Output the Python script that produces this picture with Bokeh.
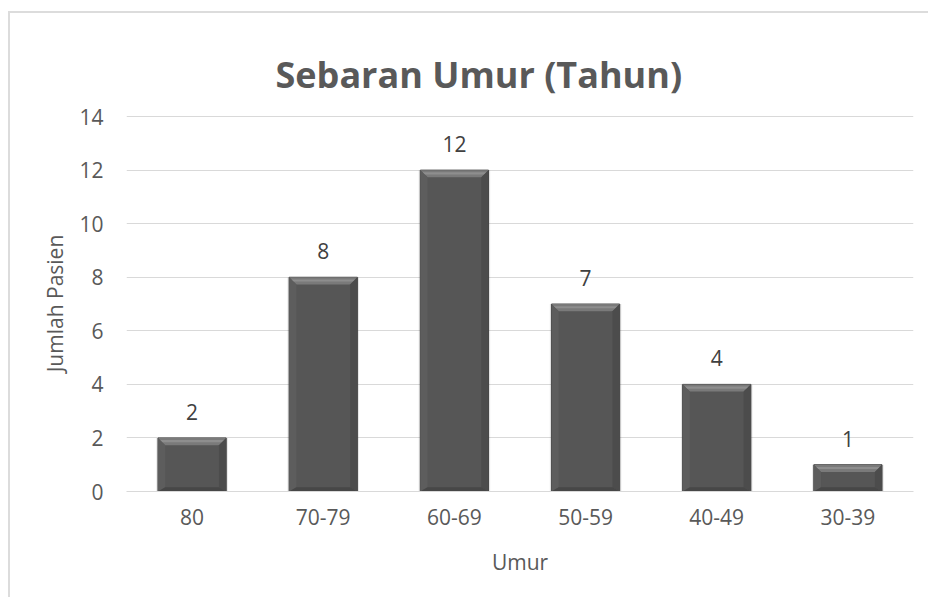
from bokeh.plotting import figure
from bokeh.models import ColumnDataSource, FixedTicker, LabelSet, Range1d
from bokeh.core.properties import value
from bokeh.embed import file_html
from bokeh.resources import INLINE

categories = ["80", "70-79", "60-69", "50-59", "40-49", "30-39"]
counts = [2, 8, 12, 7, 4, 1]
y_ticks = [0, 2, 4, 6, 8, 10, 12, 14]

FONT = "Open Sans"
GREY = "#595959"

bar_w = 0.52
bev = 0.27   # bevel depth (y units)
bevx = 0.055  # bevel depth (category units)

src = ColumnDataSource(dict(cat=categories, n=counts, lab=[str(c) for c in counts]))

p = figure(x_range=categories, y_range=Range1d(0, 14.04), width=920, height=586,
           output_backend="svg", toolbar_location=None,
           title="Sebaran Umur (Tahun)")
p.styles = {"margin-left": "8px", "margin-top": "11px",
            "border-left": "2px solid #dcdcdc", "border-top": "2px solid #dcdcdc"}
p.min_border_left = 116
p.min_border_right = 17
p.min_border_top = 102
p.min_border_bottom = 108

p.title.align = "left"
p.title.offset = 149
p.title.text_font = FONT
p.title.text_font_size = "36px"
p.title.text_font_style = "bold"
p.title.text_color = GREY
p.title.standoff = 33

p.outline_line_color = None
p.border_fill_color = "white"

# soft shadow
p.vbar(x="cat", top="n", width=bar_w + 0.025, source=src, fill_color="#000000",
       fill_alpha=0.10, line_color=None)
# main bar body
p.vbar(x="cat", top="n", width=bar_w, source=src, fill_color="#565656",
       line_color="#444444", line_width=1)

# bevel facets derived from the data
xs_top, ys_top, xs_hi, ys_hi, xs_l, ys_l, xs_r, ys_r, xs_b, ys_b = ([] for _ in range(10))
for i, n in enumerate(counts):
    cx = i + 0.5
    x0, x1 = cx - bar_w / 2, cx + bar_w / 2
    d = min(bev, n * 0.3)
    xs_top.append([x0, x1, x1 - bevx, x0 + bevx]); ys_top.append([n, n, n - d, n - d])
    xs_hi.append([x0 + bevx * 0.3, x1 - bevx * 0.3, x1 - bevx * 0.6, x0 + bevx * 0.6])
    ys_hi.append([n - d * 0.3, n - d * 0.3, n - d * 0.6, n - d * 0.6])
    xs_l.append([x0, x0 + bevx, x0 + bevx, x0]); ys_l.append([n, n - d, d * 0.6, 0])
    xs_r.append([x1, x1 - bevx, x1 - bevx, x1]); ys_r.append([n, n - d, d * 0.6, 0])
    xs_b.append([x0, x0 + bevx, x1 - bevx, x1]); ys_b.append([0, d * 0.6, d * 0.6, 0])

p.patches(xs_top, ys_top, fill_color="#7a7a7a", line_color=None)
p.patches(xs_hi, ys_hi, fill_color="#8e8e8e", line_color=None)
p.patches(xs_l, ys_l, fill_color="#5d5d5d", line_color=None)
p.patches(xs_r, ys_r, fill_color="#4c4c4c", line_color=None)
p.patches(xs_b, ys_b, fill_color="#474747", line_color=None)

labels = LabelSet(x="cat", y="n", text="lab", source=src, text_align="center",
                  text_baseline="alphabetic", y_offset=18,
                  text_font=value(FONT), text_font_size="21px",
                  text_color="#404040")
p.add_layout(labels)

p.yaxis.ticker = FixedTicker(ticks=y_ticks)
p.ygrid.grid_line_color = "#d9d9d9"
p.xgrid.grid_line_color = None

for ax in (p.xaxis, p.yaxis):
    ax.axis_line_color = None
    ax.major_tick_line_color = None
    ax.minor_tick_line_color = None
    ax.major_tick_out = 0
    ax.major_tick_in = 0
    ax.minor_tick_out = 0
    ax.minor_tick_in = 0
    ax.major_label_text_font = FONT
    ax.major_label_text_font_size = "21px"
    ax.major_label_text_color = GREY
    ax.axis_label_text_font = FONT
    ax.axis_label_text_font_size = "21px"
    ax.axis_label_text_color = GREY
    ax.axis_label_text_font_style = "normal"

p.xaxis.axis_line_color = "#d9d9d9"
p.xaxis.axis_label = "Umur"
p.yaxis.axis_label = "Jumlah Pasien"
p.xaxis.major_label_standoff = 17
p.yaxis.major_label_standoff = 23
p.xaxis.axis_label_standoff = 20
p.yaxis.axis_label_standoff = 7

open("out.html", "w").write(file_html(p, INLINE))
